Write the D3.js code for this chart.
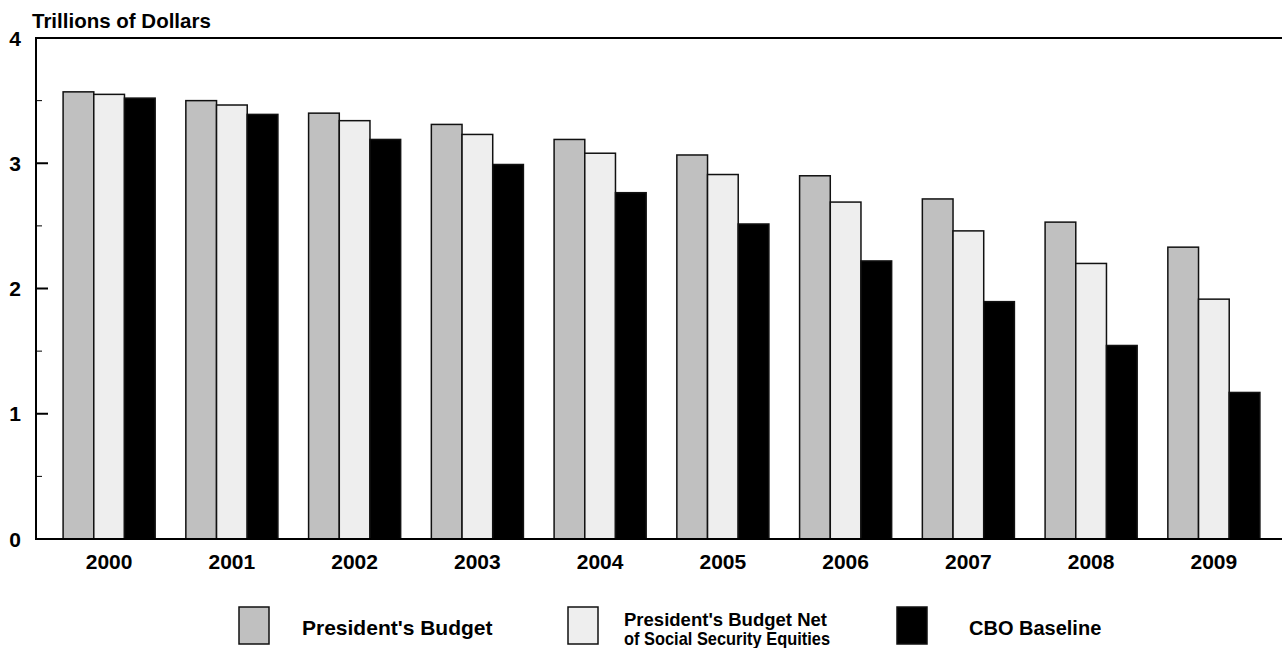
<!DOCTYPE html>
<html>
<head>
<meta charset="utf-8">
<script src="https://d3js.org/d3.v7.min.js"></script>
<style>
  body { margin: 0; background: #fff; }
  text { font-family: "Liberation Sans", Arial, sans-serif; font-weight: bold; fill: #000; }
</style>
</head>
<body>
<script>
const years = ['2000','2001','2002','2003','2004','2005','2006','2007','2008','2009']
const seriesNames = ["President's Budget", "President's Budget Net of Social Security Equities", 'CBO Baseline']
const presidentsBudget = [3.57, 3.50, 3.40, 3.31, 3.19, 3.066, 2.90, 2.715, 2.53, 2.33]
const netOfEquities = [3.55, 3.465, 3.34, 3.23, 3.08, 2.91, 2.69, 2.46, 2.20, 1.915]
const cboBaseline = [3.52, 3.39, 3.19, 2.99, 2.765, 2.515, 2.22, 1.895, 1.545, 1.17]
const yTicks = [0, 1, 2, 3, 4]
const yMinorTicks = [0.5, 1.5, 2.5, 3.5]

const width = 1282, height = 648
const colors = ['#c0c0c0', '#eeeeee', '#000000']
const series = [presidentsBudget, netOfEquities, cboBaseline]

const data = years.map((yr, i) => ({year: yr, values: series.map((s, j) => ({key: j, value: s[i]}))}))

const svg = d3.select('body').append('svg')
    .attr('width', width)
    .attr('height', height)

const x0 = d3.scaleBand()
    .domain(years)
    .range([41, 1282])
    .paddingInner(0.25)
    .paddingOuter(0.18)
const x1 = d3.scaleBand()
    .domain([0, 1, 2])
    .range([0, x0.bandwidth()])
const y = d3.scaleLinear()
    .domain([0, 4])
    .range([539, 38])

// bars
const groups = svg.append('g').selectAll('g')
    .data(data)
    .enter().append('g')
    .attr('transform', d => 'translate(' + x0(d.year) + ',0)')
groups.selectAll('rect')
    .data(d => d.values)
    .enter().append('rect')
    .attr('x', d => x1(d.key))
    .attr('y', d => y(d.value))
    .attr('width', x1.bandwidth())
    .attr('height', d => y(0) - y(d.value))
    .style('fill', d => colors[d.key])
    .style('stroke', '#111')
    .style('stroke-width', 1.5)

// axes frame
svg.append('line').attr('x1', 36).attr('x2', 36).attr('y1', y(4)).attr('y2', y(0))
    .style('stroke', '#000').style('stroke-width', 2)
svg.append('line').attr('x1', 35).attr('x2', width).attr('y1', y(4)).attr('y2', y(4))
    .style('stroke', '#000').style('stroke-width', 2)
svg.append('line').attr('x1', 35).attr('x2', width).attr('y1', y(0)).attr('y2', y(0))
    .style('stroke', '#000').style('stroke-width', 2)

// y ticks
svg.append('g').selectAll('line.major')
    .data(yTicks)
    .enter().append('line')
    .attr('x1', 36).attr('x2', 48)
    .attr('y1', d => y(d)).attr('y2', d => y(d))
    .style('stroke', '#000').style('stroke-width', 2)
svg.append('g').selectAll('line.minor')
    .data(yMinorTicks)
    .enter().append('line')
    .attr('x1', 36).attr('x2', 42)
    .attr('y1', d => y(d)).attr('y2', d => y(d))
    .style('stroke', '#000').style('stroke-width', 1)
svg.append('g').selectAll('text')
    .data(yTicks)
    .enter().append('text')
    .attr('x', 21)
    .attr('y', d => y(d))
    .attr('dy', '0.36em')
    .attr('text-anchor', 'end')
    .style('font-size', '21px')
    .text(d => d)

svg.append('text')
    .attr('x', 32).attr('y', 28)
    .style('font-size', '20.5px')
    .text('Trillions of Dollars')

// x labels
svg.append('g').selectAll('text')
    .data(years)
    .enter().append('text')
    .attr('x', d => x0(d) + x0.bandwidth() / 2)
    .attr('y', 569)
    .attr('text-anchor', 'middle')
    .style('font-size', '21px')
    .text(d => d)

// legend
const legendX = [239, 568, 897]
const legend = svg.append('g').selectAll('g')
    .data(seriesNames)
    .enter().append('g')
    .attr('transform', (d, i) => 'translate(' + legendX[i] + ',607)')
legend.append('rect')
    .attr('width', 30).attr('height', 37)
    .style('fill', (d, i) => colors[i])
    .style('stroke', '#111').style('stroke-width', 1.5)
legend.each(function(d, i) {
  const g = d3.select(this)
  if (i === 1) {
    g.append('text').attr('x', 56).attr('y', 19).style('font-size', '19px')
      .attr('textLength', 203).attr('lengthAdjust', 'spacingAndGlyphs')
      .text("President's Budget Net")
    g.append('text').attr('x', 56).attr('y', 38).style('font-size', '19px')
      .attr('textLength', 206).attr('lengthAdjust', 'spacingAndGlyphs')
      .text('of Social Security Equities')
  } else {
    g.append('text').attr('x', i === 0 ? 63 : 72).attr('y', 28)
      .style('font-size', i === 0 ? '21px' : '20px').text(d)
  }
})
</script>
</body>
</html>
